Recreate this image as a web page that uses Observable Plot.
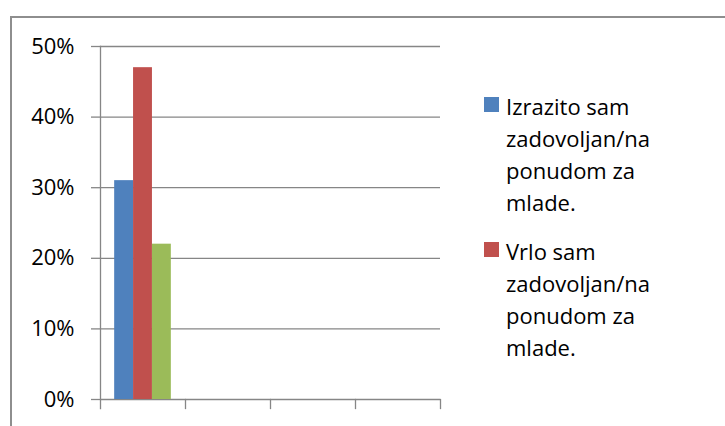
<!DOCTYPE html>
<html>
<head>
<meta charset="utf-8">
<script src="https://cdn.jsdelivr.net/npm/d3@7"></script>
<script src="https://cdn.jsdelivr.net/npm/@observablehq/plot@0.6"></script>
<style>
  html, body { margin: 0; padding: 0; background: #fff; }
  #wrap { position: relative; width: 725px; height: 426px; overflow: hidden; font-family: "Open Sans", sans-serif; }
  #border { position: absolute; left: 10px; top: 16px; width: 800px; height: 500px;
            border-top: 2px solid #8e8e8e; border-left: 2px solid #8e8e8e; box-sizing: border-box; }
  #chart { position: absolute; left: 0; top: 0; }
  #legend { position: absolute; left: 484px; top: 90px; width: 200px; }
  .item { position: relative; padding-left: 22px; margin-bottom: 17px; font-size: 22px; line-height: 32px; color: #000; width: 165px; }
  .sw { position: absolute; left: 0; top: 7px; width: 15px; height: 15px; }
</style>
</head>
<body>
<div id="wrap">
  <div id="border"></div>
  <div id="chart"></div>
  <div id="legend"></div>
</div>
<script>
// Data
const categories = ["K1", "K2", "K3", "K4"];
const series = [
  "Izrazito sam zadovoljan/na ponudom za mlade.",
  "Vrlo sam zadovoljan/na ponudom za mlade.",
  "Zadovoljan/na sam ponudom za mlade."
];
// values per category (only the first category has data in the reference)
const valuesByCategory = [
  [0.31, 0.47, 0.22],
  [null, null, null],
  [null, null, null],
  [null, null, null]
];
const colors = ["#4f81bd", "#c0504d", "#9bbb59"];
const yTicks = [0, 0.1, 0.2, 0.3, 0.4, 0.5];
const legendShown = 2;                        // reference legend is clipped after two entries

const data = categories.flatMap((c, ci) =>
  series.map((s, si) => ({category: c, series: s, value: valuesByCategory[ci][si]})));

const grid = "#868686";

const chart = Plot.plot({
  width: 725,
  height: 426,
  marginLeft: 99,
  marginRight: 284,
  marginTop: 46,
  marginBottom: 27,
  style: {fontFamily: "Open Sans, sans-serif", background: "transparent", overflow: "visible"},
  fx: {domain: categories, padding: 0, axis: null},
  x: {domain: series, paddingInner: 0, paddingOuter: 0.75, axis: null, round: false},
  y: {domain: [0, 0.5], axis: null},
  color: {domain: series, range: colors},
  marks: [
    Plot.ruleY(yTicks, {stroke: grid, strokeWidth: 1.3}),
    Plot.barY(data, {fx: "category", x: "series", y: "value", fill: "series"}),
    Plot.axisY({ticks: yTicks, tickFormat: d3.format(".0%"), tickSize: 9, tickPadding: 17, label: null,
                fontSize: 22, color: "#000", stroke: grid, strokeWidth: 1.3}),
    Plot.frame({anchor: "left", insetBottom: -9, facetAnchor: "left", stroke: grid, strokeWidth: 1.3}),
    Plot.frame({anchor: "right", insetTop: 353, insetBottom: -9, stroke: grid, strokeWidth: 1.3})
  ]
});
document.getElementById("chart").appendChild(chart);

// Legend
const legend = document.getElementById("legend");
series.slice(0, legendShown).forEach((s, i) => {
  const item = document.createElement("div");
  item.className = "item";
  const sw = document.createElement("span");
  sw.className = "sw";
  sw.style.background = colors[i];
  item.appendChild(sw);
  item.appendChild(document.createTextNode(s));
  legend.appendChild(item);
});
</script>
</body>
</html>
